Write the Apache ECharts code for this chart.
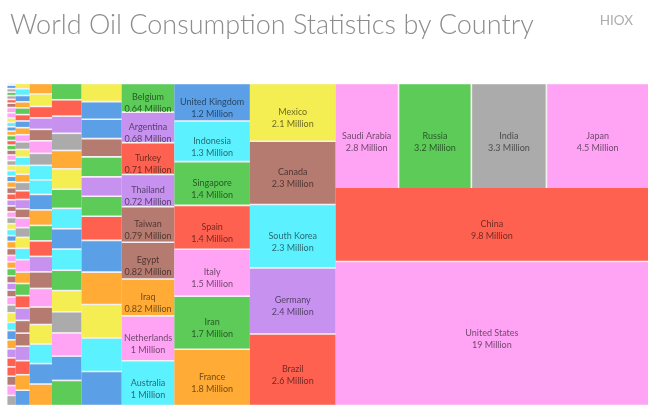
<!DOCTYPE html>
<html><head><meta charset="utf-8">
<style>html,body{margin:0;padding:0;background:#fff}#c{width:650px;height:411px}</style>
<script src="https://cdn.jsdelivr.net/npm/echarts@6/dist/echarts.min.js"></script>
</head><body><div id="c"></div>
<script>
// Millions of barrels per day. Unnamed cells have no readable label.
const columnA = [.006,.012,.012,.012,.013,.013,.015,.018,.018,.015,.015,.015,.015,.017,.016,.017,.017,.019,.017,.018,.019,.019,.02,.021,.021,.021,.02,.02,.021,.02,.021,.02,.024,.024,.022,.023,.025,.025,.024,.024,.027,.027,.033,.028,.032,.031,.031,.031,.032,.032,.034,.035];
const columnAColors = 'cyan blue gray green gray red brown pink pink yellow cyan blue orange green red green brown pink gray yellow cyan blue orange brown red purple brown pink gray yellow cyan blue orange brown pink orange green brown purple brown pink gray yellow cyan blue orange purple red red brown pink gray'.split(' ');
const columnB = [.032,.04,.038,.036,.04,.038,.04,.042,.042,.046,.046,.05,.052,.048,.05,.052,.056,.054,.058,.058,.065,.068,.074,.068,.072,.074,.074,.076,.078,.086,.084,.092,.092];
const columnBColors = 'yellow cyan blue orange green red blue orange pink gray yellow cyan yellow orange gray red purple brown pink gray yellow cyan pink orange green red purple brown brown purple red orange blue'.split(' ');
const columnC = [.099,.118,.108,.108,.108,.118,.113,.137,.137,.146,.146,.146,.146,.146,.156,.175,.165,.184,.184,.193,.203];
const columnCColors = 'orange yellow red purple brown pink gray cyan cyan blue orange green red purple brown pink brown yellow cyan blue orange'.split(' ');
const columnD = [.205,.205,.215,.215,.23,.255,.24,.255,.255,.265,.255,.265,.265,.29,.305,.315];
const columnDColors = 'green red purple gray orange yellow green cyan blue cyan green yellow gray pink blue green'.split(' ');
const columnE = [.31,.30,.33,.31,.34,.33,.34,.41,.54,.55,.57,.57,.58];
const columnEColors = 'yellow blue blue brown green purple green red blue orange yellow cyan blue'.split(' ');
const namesF = ['Belgium','Argentina','Turkey','Thailand','Taiwan','Egypt','Iraq','Netherlands','Australia'];
const columnF = [.64,.68,.71,.72,.79,.82,.82,1,1];
const columnFColors = 'green purple red purple brown brown orange pink cyan'.split(' ');
const namesG = ['United Kingdom','Indonesia','Singapore','Spain','Italy','Iran','France'];
const columnG = [1.2,1.3,1.4,1.4,1.5,1.7,1.8];
const columnGColors = 'blue cyan green red pink green orange'.split(' ');
const namesH = ['Mexico','Canada','South Korea','Germany','Brazil'];
const columnH = [2.1,2.3,2.3,2.4,2.6];
const columnHColors = 'yellow brown cyan purple red'.split(' ');
const namesTop = ['Saudi Arabia','Russia','India','Japan'];
const topRow = [2.8,3.2,3.3,4.5];
const topRowColors = 'pink green gray pink'.split(' ');
const namesBottom = ['China','United States'];
const bottomRows = [9.8,19];
const bottomRowsColors = 'red pink'.split(' ');

const palette = {pink:'#FFA3F5',green:'#5CCB58',gray:'#ABABAB',red:'#FF6150',blue:'#5B9FE6',cyan:'#5CF1FF',orange:'#FFAB35',yellow:'#F5EE52',purple:'#C691EF',brown:'#B67B70'};
const sum = a => a.reduce((s, v) => s + v, 0);

function leaves(values, colors, names) {
  return values.map((v, i) => ({
    name: names ? names[i] : '',
    value: v,
    itemStyle: {color: palette[colors[i]]},
    label: {show: !!names}
  }));
}
const columns = [
  [columnA, columnAColors], [columnB, columnBColors], [columnC, columnCColors],
  [columnD, columnDColors], [columnE, columnEColors], [columnF, columnFColors, namesF],
  [columnG, columnGColors, namesG], [columnH, columnHColors, namesH]
];

// The plot area is split in proportion to the values.
const plot = {x: 7.5, y: 84.2, w: 640.5, h: 320.6};
const topSum = sum(topRow), bottomSum = sum(bottomRows), rightSum = topSum + bottomSum;
const total = sum(columns.map(c => sum(c[0]))) + rightSum;
const topH = plot.h * topSum / rightSum;

const gap = {gapWidth: 1.6, borderWidth: 0, borderColor: '#f4f0f4'};
const base = {
  type: 'treemap',
  sort: false,
  visibleMin: 0, childrenVisibleMin: 0,
  roam: false, nodeClick: false,
  breadcrumb: {show: false},
  silent: true,
  squareRatio: 0.001,
  itemStyle: gap,
  upperLabel: {show: false},
  label: {
    show: true, position: 'inside', offset: [0, 5.5], padding: 0,
    fontFamily: 'Lato', fontSize: 9, lineHeight: 12,
    color: 'rgba(0,0,0,.58)', overflow: 'none',
    formatter: p => p.name + '\n' + p.value + ' Million'
  },
  levels: [{itemStyle: gap}]
};

let x = plot.x;
const seriesList = columns.map(([vals, cols, names]) => {
  const w = plot.w * sum(vals) / total;
  const s = Object.assign({}, base, {
    left: x, top: plot.y, width: w, height: plot.h,
    data: leaves(vals, cols, names)
  });
  x += w;
  return s;
});
const rightW = plot.x + plot.w - x;
seriesList.push(Object.assign({}, base, {
  left: x, top: plot.y, width: rightW, height: topH,
  data: leaves(topRow, topRowColors, namesTop)
}));
seriesList.push(Object.assign({}, base, {
  left: x, top: plot.y + topH, width: rightW, height: plot.h - topH,
  squareRatio: 1.618,
  data: leaves(bottomRows, bottomRowsColors, namesBottom)
}));

const chart = echarts.init(document.getElementById('c'), null, {renderer: 'canvas'});
chart.setOption({
  animation: false,
  backgroundColor: '#fff',
  title: [
    {text: 'World Oil Consumption Statistics by Country', left: 5, top: 7,
     textStyle: {fontFamily: 'Lato', fontWeight: 300, fontSize: 27, color: '#8c8c8c'}},
    {text: 'HIOX', right: 12, top: 9,
     textStyle: {fontFamily: 'Lato', fontWeight: 400, fontSize: 13.5, color: '#adadad'}}
  ],
  series: seriesList
});
</script></body></html>
